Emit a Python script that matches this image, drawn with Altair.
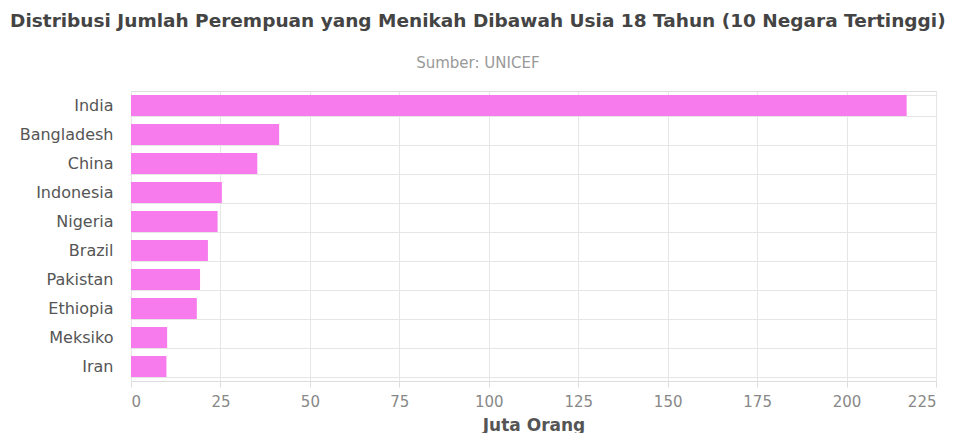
import altair as alt
import pandas as pd

countries = ["India", "Bangladesh", "China", "Indonesia", "Nigeria", "Brazil",
             "Pakistan", "Ethiopia", "Meksiko", "Iran"]
values = [216.8, 41.4, 35.3, 25.4, 24.2, 21.5, 19.3, 18.4, 10.1, 9.9]

df = pd.DataFrame({"Negara": countries, "Jumlah": values})

FONT = "DejaVu Sans"

chart = alt.Chart(df).mark_bar(color="#f77bec").encode(
    x=alt.X("Jumlah:Q",
            scale=alt.Scale(domain=[0, 225], nice=False),
            axis=alt.Axis(title="Juta Orang", values=list(range(0, 226, 25)),
                          titleFontSize=17, titleFontWeight="bold", titleColor="#555",
                          titleFont=FONT, titlePadding=8,
                          labelFont=FONT, labelFontSize=15, labelColor="#888",
                          labelPadding=7, tickColor="#ddd", tickSize=6,
                          domain=False, gridColor="#e6e6e6")),
    y=alt.Y("Negara:N", sort=countries, title=None,
            scale=alt.Scale(paddingInner=0.28, paddingOuter=0.14),
            axis=alt.Axis(labelFont=FONT, labelFontSize=16,
                          labelColor="#555", labelPadding=18, ticks=False,
                          domain=False, grid=True, tickBand="extent",
                          gridColor="#e6e6e6")),
).properties(
    width=805, height=290,
    title=alt.TitleParams(
        "Distribusi Jumlah Perempuan yang Menikah Dibawah Usia 18 Tahun (10 Negara Tertinggi)",
        subtitle="Sumber: UNICEF", font=FONT, fontSize=18.5, fontWeight="bold",
        color="#444", subtitleFont=FONT, subtitleFontSize=15, subtitleColor="#999",
        subtitlePadding=26, offset=12, anchor="middle", frame="bounds"),
).configure_view(stroke="#e6e6e6").configure(padding={"left": 2, "top": 3, "right": 0, "bottom": 0})

chart.save("out.html", embed_options={"renderer": "svg", "actions": False})
